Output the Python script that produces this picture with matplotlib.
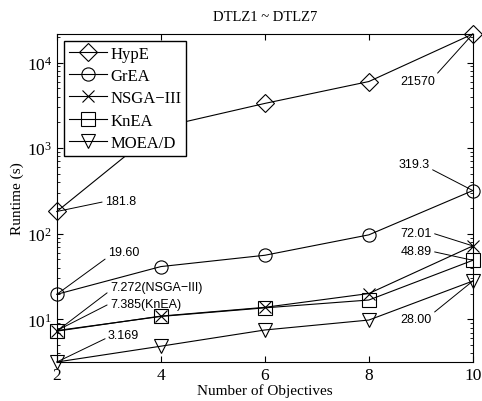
import numpy as np
import matplotlib
matplotlib.use('Agg')
from matplotlib import pyplot as plt

plt.rcParams['font.family'] = ['Liberation Serif', 'DejaVu Serif']
plt.rcParams['mathtext.fontset'] = 'stix'

objectives = [2, 4, 6, 8, 10]
hype = [181.8, 1750, 3330, 6000, 21570]
grea = [19.60, 41.3, 56, 97, 319.3]
nsga3 = [7.272, 10.9, 13.8, 20, 72.01]
knea = [7.385, 10.8, 13.6, 16.8, 48.89]
moead = [3.169, 4.85, 7.5, 9.8, 28.00]

series = [
    ('HypE', hype, 'D'),
    ('GrEA', grea, 'o'),
    ('NSGA\u2212III', nsga3, 'x'),
    ('KnEA', knea, 's'),
    ('MOEA/D', moead, 'v'),
]

# (label text, series, index, pixel offset, alignment, relpos)
notes = [
    ('181.8', hype, 0, (48, 10), 'left', (0, 0.5)),
    ('21570', hype, 4, (-38, -47), 'right', (1, 0.9)),
    ('319.3', grea, 4, (-43, 27), 'right', (1, 0.1)),
    ('19.60', grea, 0, (51, 42), 'left', (0, 0.1)),
    ('7.272(NSGA\u2212III)', nsga3, 0, (53, 44), 'left', (0, 0.2)),
    ('7.385(KnEA)', knea, 0, (53, 27), 'left', (0, 0.5)),
    ('3.169', moead, 0, (51, 27), 'left', (0, 0.3)),
    ('72.01', nsga3, 4, (-41, 13), 'right', (1, 0.5)),
    ('48.89', knea, 4, (-41, 9), 'right', (1, 0.5)),
    ('28.00', moead, 4, (-41, -38), 'right', (1, 0.9)),
]

fig = plt.figure(figsize=(4.82, 4.02), dpi=100)
ax = fig.add_axes([0.118, 0.097, 0.863, 0.816])

for name, vals, mk in series:
    ms = 8 if mk == 'x' else 9.5
    ax.plot(objectives, vals, color='black', lw=0.8, marker=mk, ms=ms,
            mfc='none', mec='black', mew=0.8, label=name, clip_on=False)

for txt, vals, i, off, ha, rp in notes:
    ax.annotate(txt, xy=(objectives[i], vals[i]), xytext=off,
                textcoords='offset pixels', ha=ha, va='center',
                fontsize=9, family=['Liberation Sans', 'DejaVu Sans'],
                arrowprops=dict(arrowstyle='-', color='black', lw=0.7,
                                shrinkA=0, shrinkB=0, relpos=rp))

ax.set_yscale('log')
ax.set_xlim(2, 10)
ax.set_ylim(min(moead), max(hype))
ax.set_xticks(objectives)
ax.tick_params(which='both', direction='in', top=True, right=True, labelsize=12.5)
ax.tick_params(which='major', length=4)
ax.tick_params(which='minor', length=2)
ax.set_xlabel('Number of Objectives', fontsize=11, labelpad=0)
ax.set_ylabel('Runtime (s)', fontsize=11, labelpad=2)
ax.set_title('DTLZ1 ~ DTLZ7', fontsize=10.5, pad=10)

leg = ax.legend(loc='upper left', fontsize=12, fancybox=False, framealpha=1,
                edgecolor='black', borderaxespad=0.4, handlelength=2.3,
                labelspacing=0.38, borderpad=0.3, handletextpad=0.2)
leg.get_frame().set_linewidth(1.0)

fig.savefig('out.png', dpi=100)
